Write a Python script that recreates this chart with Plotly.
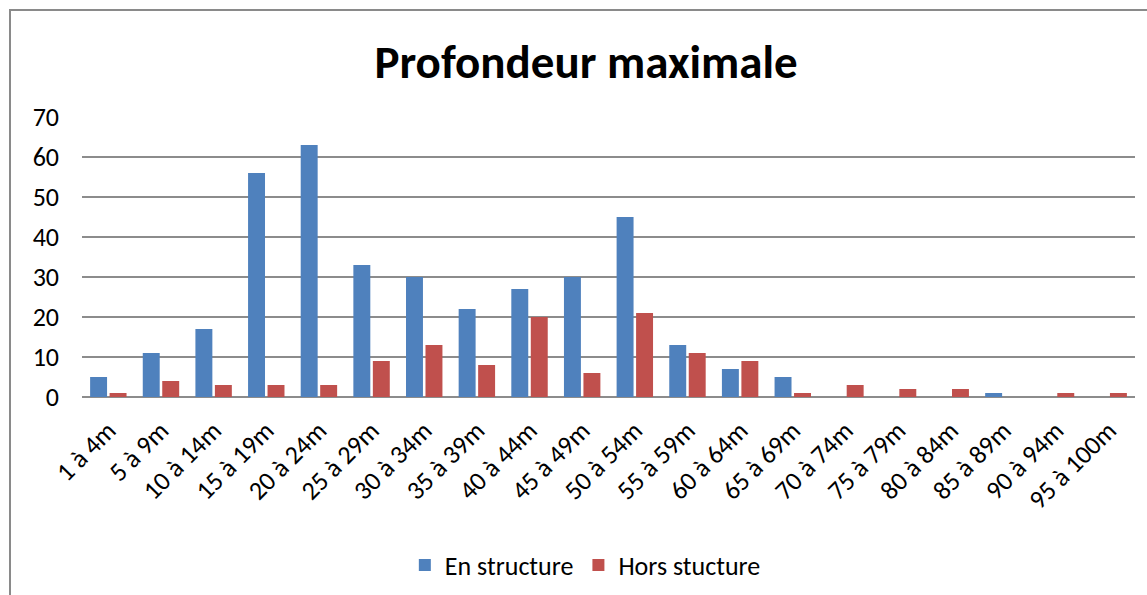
import plotly.graph_objects as go

categories = ["1 à 4m", "5 à 9m", "10 à 14m", "15 à 19m", "20 à 24m", "25 à 29m",
              "30 à 34m", "35 à 39m", "40 à 44m", "45 à 49m", "50 à 54m", "55 à 59m",
              "60 à 64m", "65 à 69m", "70 à 74m", "75 à 79m", "80 à 84m", "85 à 89m",
              "90 à 94m", "95 à 100m"]
en_structure = [5, 11, 17, 56, 63, 33, 30, 22, 27, 30, 45, 13, 7, 5, 0, 0, 0, 1, 0, 0]
hors_structure = [1, 4, 3, 3, 3, 9, 13, 8, 20, 6, 21, 11, 9, 1, 3, 2, 2, 0, 1, 1]

FONT = "Carlito, Calibri, Lato, sans-serif"

fig = go.Figure()
fig.add_trace(go.Bar(x=categories, y=en_structure, name="En structure",
                     marker=dict(color="#4F81BD", line=dict(width=0))))
fig.add_trace(go.Bar(x=categories, y=hors_structure, name="Hors stucture",
                     marker=dict(color="#C0504D", line=dict(width=0))))

L, R, T, B = 82, 12, 117, 198
W, H = 1147, 595
pw = W - L - R
ph = H - T - B

fig.update_layout(
    width=W, height=H,
    margin=dict(l=L, r=R, t=T, b=B, pad=0, autoexpand=False),
    paper_bgcolor="white", plot_bgcolor="white",
    font=dict(family=FONT, color="black", size=26),
    title=dict(text="<b>Profondeur maximale</b>", x=0.511, xanchor="center",
               y=1 - 62 / H, yanchor="middle",
               font=dict(size=47, family=FONT, color="black")),
    barmode="group", bargap=0.26, bargroupgap=0.13,
    showlegend=True,
    legend=dict(orientation="h", x=0.478, xanchor="center",
                y=-(565 - 397) / ph, yanchor="middle",
                font=dict(size=26), itemwidth=30, traceorder="normal"),
    xaxis=dict(tickangle=-45, showgrid=False, showline=False, ticks="",
               tickfont=dict(size=26), automargin=False, ticklabelstandoff=12),
    yaxis=dict(range=[0, 70], dtick=10, showgrid=True, gridcolor="#8c8c8c",
               gridwidth=1.5, zeroline=True, zerolinecolor="#8c8c8c", zerolinewidth=1.5,
               ticks="", tickfont=dict(size=26), showline=False, automargin=False,
               ticklabelstandoff=22),
    shapes=[dict(type="rect", xref="paper", yref="paper",
                 x0=(10 - L) / pw, x1=(W + 60 - L) / pw,
                 y0=-(H + 60 - T - ph) / ph, y1=(T + ph - 10) / ph,
                 line=dict(color="#8a8a8a", width=2), fillcolor="rgba(0,0,0,0)",
                 layer="below")],
)

fig.write_html("out.html", config={"displayModeBar": False},
               post_script="document.body.style.margin='0';document.body.style.overflow='hidden';")
